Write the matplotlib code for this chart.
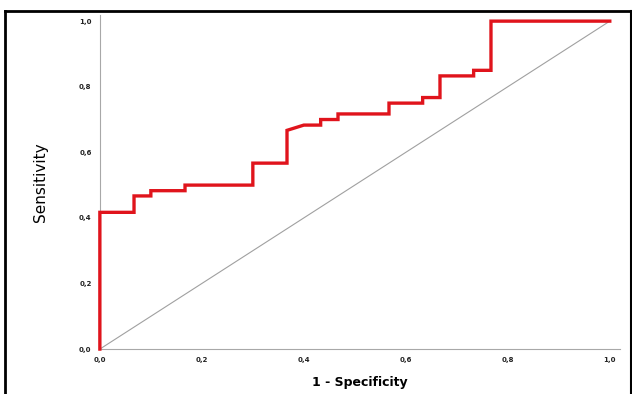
import matplotlib
matplotlib.use("Agg")
import matplotlib.pyplot as plt
from matplotlib.lines import Line2D

# ROC curve points (1 - Specificity, Sensitivity)
fpr = [0.000, 0.000, 0.067, 0.067, 0.100, 0.100, 0.167, 0.167, 0.300, 0.300,
       0.367, 0.367, 0.400, 0.433, 0.433, 0.467, 0.467, 0.567, 0.567, 0.633,
       0.633, 0.667, 0.667, 0.733, 0.733, 0.767, 0.767, 1.000]
tpr = [0.000, 0.417, 0.417, 0.467, 0.467, 0.483, 0.483, 0.500, 0.500, 0.567,
       0.567, 0.667, 0.683, 0.683, 0.700, 0.700, 0.717, 0.717, 0.750, 0.750,
       0.767, 0.767, 0.833, 0.833, 0.850, 0.850, 1.000, 1.000]
ref_line = [0.0, 1.0]
ticks = [0.0, 0.2, 0.4, 0.6, 0.8, 1.0]
tick_labels = ["0,0", "0,2", "0,4", "0,6", "0,8", "1,0"]

fig = plt.figure(figsize=(6.32, 3.94), dpi=100)
ax = fig.add_axes([0.158, 0.114, 0.823, 0.849])

ax.plot(ref_line, ref_line, color="#a0a0a0", lw=0.8, zorder=1)
ax.plot(fpr, tpr, color="#e0141c", lw=2.4, solid_joinstyle="miter",
        clip_on=False, zorder=3)

ax.set_xlim(0, 1.02)
ax.set_ylim(0, 1.02)
ax.set_xticks(ticks)
ax.set_xticklabels(tick_labels)
ax.set_yticks(ticks)
ax.set_yticklabels(tick_labels)
ax.tick_params(axis="both", length=0, labelsize=5, pad=6)
for lab in ax.get_xticklabels() + ax.get_yticklabels():
    lab.set_fontweight("bold")
    lab.set_color("#222222")

for s in ["top", "right"]:
    ax.spines[s].set_visible(False)
for s in ["left", "bottom"]:
    ax.spines[s].set_color("#a8a8a8")
    ax.spines[s].set_linewidth(0.8)

ax.set_xlabel("1 - Specificity", fontsize=9, fontweight="bold", labelpad=9)
ax.set_ylabel("Sensitivity", fontsize=11,
              family=["Liberation Sans Narrow", "DejaVu Sans"], labelpad=22)

# outer frame
fig.add_artist(Line2D([0.008, 0.998], [0.972, 0.972], color="black", lw=2, transform=fig.transFigure))
fig.add_artist(Line2D([0.008, 0.008], [0.0, 0.972], color="black", lw=2, transform=fig.transFigure))
fig.add_artist(Line2D([0.998, 0.998], [0.0, 0.972], color="black", lw=1.5, transform=fig.transFigure))

fig.savefig("out.png", dpi=100)
